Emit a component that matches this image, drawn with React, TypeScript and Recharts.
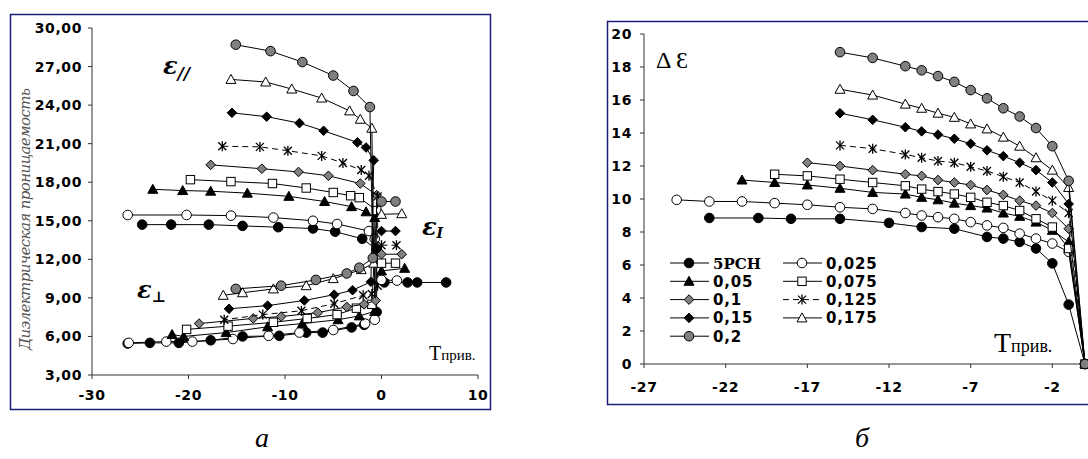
import { ScatterChart, Scatter, XAxis, YAxis } from 'recharts'

type Pt = [number, number]
type Kind = 'dot' | 'ring' | 'tri' | 'sq' | 'gdia' | 'star' | 'dia' | 'otri' | 'gdot'

const NAMES = ['5PCH', '0,025', '0,05', '0,075', '0,1', '0,125', '0,15', '0,175', '0,2']
const KINDS: Kind[] = ['dot', 'ring', 'tri', 'sq', 'gdia', 'star', 'dia', 'otri', 'gdot']

// panel a: permittivity vs reduced temperature, [T, eps]
const PAR_PCH: Pt[] = [[-24.8, 14.7], [-21.8, 14.7], [-17.9, 14.7], [-14.4, 14.6], [-10.7, 14.5], [-7.1, 14.4], [-4.8, 14.15], [-2.0, 13.6], [-0.5, 12.8]]
const PAR_025: Pt[] = [[-26.3, 15.45], [-20.2, 15.45], [-15.6, 15.4], [-11.2, 15.25], [-7.1, 15.0], [-4.6, 14.75], [-1.3, 14.2], [-0.7, 13.6]]
const PAR_05: Pt[] = [[-23.7, 17.45], [-20.6, 17.35], [-17.7, 17.3], [-13.9, 17.15], [-9.6, 16.9], [-5.9, 16.5], [-3.1, 16.1], [-1.6, 15.7], [-0.7, 15.25]]
const PAR_075: Pt[] = [[-19.8, 18.2], [-15.6, 18.05], [-11.3, 17.9], [-7.8, 17.55], [-5.0, 17.2], [-3.2, 16.95], [-2.3, 16.8], [-0.5, 15.8]]
const PAR_1: Pt[] = [[-17.7, 19.35], [-12.4, 19.05], [-8.6, 18.8], [-5.5, 18.5], [-2.2, 17.9], [-0.5, 17.0]]
const PAR_125: Pt[] = [[-16.5, 20.8], [-12.6, 20.75], [-9.7, 20.45], [-6.2, 20.05], [-4.0, 19.5], [-2.1, 18.95], [-1.3, 18.5], [-0.4, 16.9]]
const PAR_15: Pt[] = [[-15.5, 23.4], [-11.9, 23.1], [-8.5, 22.6], [-6.0, 22.0], [-2.5, 21.1], [-1.6, 20.7], [-0.8, 19.7]]
const PAR_175: Pt[] = [[-15.6, 26.0], [-12.0, 25.8], [-9.3, 25.25], [-6.2, 24.55], [-3.3, 23.55], [-2.2, 22.9], [-1.0, 22.2]]
const PAR_2: Pt[] = [[-15.1, 28.7], [-11.5, 28.2], [-8.2, 27.35], [-5.0, 26.3], [-2.9, 25.1], [-1.2, 23.85]]

const PERP_PCH: Pt[] = [[-26.3, 5.45], [-24.0, 5.5], [-21.0, 5.5], [-17.7, 5.7], [-14.4, 6.0], [-10.6, 6.05], [-7.8, 6.3], [-6.1, 6.3], [-3.1, 6.7], [-1.8, 6.9], [-0.5, 7.9]]
const PERP_025: Pt[] = [[-26.2, 5.5], [-22.3, 5.6], [-19.6, 5.6], [-15.4, 5.8], [-11.7, 6.05], [-8.5, 6.3], [-5.0, 6.5], [-1.7, 7.0], [-0.7, 7.3]]
const PERP_05: Pt[] = [[-21.7, 6.15], [-20.5, 6.0], [-16.1, 6.3], [-11.8, 6.75], [-8.2, 7.0], [-4.5, 7.3], [-2.3, 7.6], [-0.7, 7.95]]
const PERP_075: Pt[] = [[-20.2, 6.55], [-15.9, 6.8], [-11.2, 7.1], [-7.7, 7.4], [-4.6, 7.7], [-2.6, 8.2], [-1.0, 8.5]]
const PERP_1: Pt[] = [[-18.9, 7.0], [-13.3, 7.4], [-10.4, 7.55], [-6.6, 7.85], [-3.6, 8.3], [-1.8, 8.5], [-0.6, 8.8]]
const PERP_125: Pt[] = [[-16.3, 7.3], [-12.3, 7.7], [-8.3, 8.0], [-4.9, 8.55], [-1.9, 9.2], [-1.0, 9.3], [-0.4, 9.95]]
const PERP_15: Pt[] = [[-15.8, 8.15], [-11.8, 8.4], [-8.0, 8.8], [-4.9, 9.25], [-3.0, 9.6], [-1.1, 10.25]]
const PERP_175: Pt[] = [[-16.4, 9.2], [-14.4, 9.4], [-11.2, 9.7], [-7.8, 9.95], [-5.0, 10.5], [-2.1, 11.2], [-0.8, 11.7]]
const PERP_2: Pt[] = [[-15.1, 9.7], [-10.4, 9.95], [-6.8, 10.4], [-3.6, 10.9], [-2.3, 11.35], [-0.9, 12.1]]

const ISO_PCH: Pt[] = [[0.3, 10.2], [2.7, 10.2], [3.7, 10.2], [6.7, 10.2]]
const ISO_025: Pt[] = [[0, 10.4], [1.6, 10.35]]
const ISO_05: Pt[] = [[0, 11.1], [2.4, 11.3]]
const ISO_075: Pt[] = [[0, 11.7], [1.45, 11.7]]
const ISO_1: Pt[] = [[0, 12.4], [2.1, 12.4]]
const ISO_125: Pt[] = [[0, 13.1], [1.55, 13.1]]
const ISO_15: Pt[] = [[0, 14.2], [1.45, 14.2]]
const ISO_175: Pt[] = [[0, 15.5], [2.1, 15.55]]
const ISO_2: Pt[] = [[0, 16.5], [1.45, 16.5]]

// panel b: anisotropy
const T_PCH = [-23, -20, -18, -15, -12, -10, -8, -6, -5, -4, -3, -2, -1, 0]
const T_025 = [-25, -23, -21, -19, -17, -15, -13, -11, -10, -9, -8, -7, -6, -5, -4, -3, -2, -1, 0]
const T_05 = [-21, -19, -17, -15, -13, -11, -10, -9, -8, -7, -6, -5, -4, -3, -2, -1, 0]
const T_075 = [-19, -17, -15, -13, -11, -10, -9, -8, -7, -6, -5, -4, -3, -2, -1, 0]
const T_1 = [-17, -15, -13, -11, -10, -9, -8, -7, -6, -5, -4, -3, -2, -1, 0]
const T_HI = [-15, -13, -11, -10, -9, -8, -7, -6, -5, -4, -3, -2, -1, 0]

const D_PCH = [8.85, 8.85, 8.8, 8.8, 8.55, 8.3, 8.2, 7.7, 7.6, 7.4, 7.0, 6.1, 3.6, 0]
const D_025 = [9.95, 9.85, 9.85, 9.75, 9.65, 9.5, 9.4, 9.15, 9.0, 8.9, 8.8, 8.6, 8.4, 8.25, 7.9, 7.6, 7.3, 6.8, 0]
const D_05 = [11.15, 11.0, 10.85, 10.65, 10.4, 10.3, 10.1, 9.95, 9.75, 9.6, 9.45, 9.15, 8.95, 8.6, 8.1, 7.4, 0]
const D_075 = [11.5, 11.4, 11.2, 11.0, 10.8, 10.6, 10.45, 10.3, 10.1, 9.8, 9.6, 9.3, 8.8, 8.3, 7.0, 0]
const D_1 = [12.2, 12.0, 11.75, 11.5, 11.4, 11.15, 11.0, 10.85, 10.55, 10.25, 9.9, 9.6, 9.15, 8.2, 0]
const D_125 = [13.25, 13.05, 12.7, 12.5, 12.3, 12.2, 11.95, 11.7, 11.35, 11.0, 10.45, 9.9, 9.15, 0]
const D_15 = [15.2, 14.8, 14.35, 14.1, 13.9, 13.65, 13.35, 12.95, 12.6, 12.2, 11.75, 11.0, 9.7, 0]
const D_175 = [16.65, 16.3, 15.75, 15.5, 15.2, 14.95, 14.55, 14.25, 13.75, 13.2, 12.5, 11.75, 10.7, 0]
const D_2 = [18.9, 18.55, 18.05, 17.8, 17.45, 17.1, 16.6, 16.1, 15.5, 15.0, 14.3, 13.2, 11.1, 0]

const LEFT_X_TICKS = [-30, -20, -10, 0, 10]
const LEFT_Y_TICKS = [3, 6, 9, 12, 15, 18, 21, 24, 27, 30]
const RIGHT_X_TICKS = [-27, -22, -17, -12, -7, -2]
const RIGHT_Y_TICKS = [0, 2, 4, 6, 8, 10, 12, 14, 16, 18, 20]

const PARS = [PAR_PCH, PAR_025, PAR_05, PAR_075, PAR_1, PAR_125, PAR_15, PAR_175, PAR_2]
const PERPS = [PERP_PCH, PERP_025, PERP_05, PERP_075, PERP_1, PERP_125, PERP_15, PERP_175, PERP_2]
const ISOS = [ISO_PCH, ISO_025, ISO_05, ISO_075, ISO_1, ISO_125, ISO_15, ISO_175, ISO_2]
const TS = [T_PCH, T_025, T_05, T_075, T_1, T_HI, T_HI, T_HI, T_HI]
const DS = [D_PCH, D_025, D_05, D_075, D_1, D_125, D_15, D_175, D_2]

const toXY = (pts: Pt[]) => pts.map(([x, y]) => ({ x, y }))

const GREY = '#808080'
const TICK = { fill: '#000', fontFamily: 'DejaVu Sans', fontWeight: 700, fontSize: 14, letterSpacing: 0.6 }

function Marker({ cx, cy, kind }: { cx?: number; cy?: number; kind: Kind }) {
  if (cx == null || cy == null) return null
  const s = { stroke: '#000', strokeWidth: 1 }
  switch (kind) {
    case 'dot':
      return <circle cx={cx} cy={cy} r={4.8} fill="#000" {...s} />
    case 'ring':
      return <circle cx={cx} cy={cy} r={4.8} fill="#fff" {...s} />
    case 'gdot':
      return <circle cx={cx} cy={cy} r={4.8} fill={GREY} {...s} />
    case 'tri':
    case 'otri':
      return (
        <polygon
          points={`${cx},${cy - 5} ${cx + 5},${cy + 4} ${cx - 5},${cy + 4}`}
          fill={kind === 'tri' ? '#000' : '#fff'}
          {...s}
        />
      )
    case 'sq':
      return <rect x={cx - 4.2} y={cy - 4.2} width={8.4} height={8.4} fill="#fff" {...s} />
    case 'dia':
    case 'gdia':
      return (
        <polygon
          points={`${cx},${cy - 4.8} ${cx + 4.8},${cy} ${cx},${cy + 4.8} ${cx - 4.8},${cy}`}
          fill={kind === 'dia' ? '#000' : GREY}
          {...s}
        />
      )
    case 'star':
      return (
        <g stroke="#000" strokeWidth={1.3}>
          <line x1={cx - 4} y1={cy - 4} x2={cx + 4} y2={cy + 4} />
          <line x1={cx - 4} y1={cy + 4} x2={cx + 4} y2={cy - 4} />
          <line x1={cx} y1={cy - 5} x2={cx} y2={cy + 5} />
        </g>
      )
  }
  return null
}

const lineFor = (kind: Kind) => ({
  stroke: '#000',
  strokeWidth: 1,
  strokeDasharray: kind === 'star' ? '6 4' : undefined,
})

const shapeFor = (kind: Kind) => (p: any) => <Marker cx={p.cx} cy={p.cy} kind={kind} />

function LeftPanel() {
  return (
    <ScatterChart width={481} height={396} margin={{ top: 14, right: 13, bottom: 10, left: 12 }}>
      <XAxis
        type="number"
        dataKey="x"
        domain={[-30, 10]}
        ticks={LEFT_X_TICKS}
        tick={TICK}
        tickSize={4}
        tickMargin={11}
        height={25}
        axisLine={{ stroke: '#333' }}
        tickLine={{ stroke: '#333' }}
      />
      <YAxis
        type="number"
        dataKey="y"
        domain={[3, 30]}
        ticks={LEFT_Y_TICKS}
        tick={TICK}
        tickSize={4}
        tickMargin={6}
        width={70}
        tickFormatter={(v: number) => v.toFixed(2).replace('.', ',')}
        axisLine={{ stroke: '#333' }}
        tickLine={{ stroke: '#333' }}
      />
      {NAMES.map((name, i) => (
        <Scatter
          key={name}
          data={toXY([...PARS[i], ...[...PERPS[i]].reverse()])}
          fill="#000"
          line={lineFor(KINDS[i])}
          shape={shapeFor(KINDS[i])}
          isAnimationActive={false}
        />
      ))}
      {NAMES.map((name, i) => (
        <Scatter
          key={name + '-iso'}
          data={toXY(ISOS[i])}
          fill="#000"
          line={lineFor(KINDS[i])}
          shape={shapeFor(KINDS[i])}
          isAnimationActive={false}
        />
      ))}
    </ScatterChart>
  )
}

function RightPanel() {
  return (
    <ScatterChart width={481} height={384} margin={{ top: 13, right: 3, bottom: 11, left: 7 }}>
      <XAxis
        type="number"
        dataKey="x"
        domain={[-27, 0]}
        ticks={RIGHT_X_TICKS}
        tick={TICK}
        tickSize={4}
        tickMargin={14}
        height={30}
        axisLine={{ stroke: '#333' }}
        tickLine={{ stroke: '#333' }}
      />
      <YAxis
        type="number"
        dataKey="y"
        domain={[0, 20]}
        ticks={RIGHT_Y_TICKS}
        tick={TICK}
        tickSize={4}
        tickMargin={8}
        width={30}
        axisLine={{ stroke: '#333' }}
        tickLine={{ stroke: '#333' }}
      />
      {NAMES.map((name, i) => (
        <Scatter
          key={name}
          data={TS[i].map((x, j) => ({ x, y: DS[i][j] }))}
          fill="#000"
          line={lineFor(KINDS[i])}
          shape={shapeFor(KINDS[i])}
          isAnimationActive={false}
        />
      ))}
    </ScatterChart>
  )
}

function Overlay() {
  const serif = 'DejaVu Serif'
  return (
    <svg width={1088} height={459} style={{ position: 'absolute', left: 0, top: 0, pointerEvents: 'none' }}>
      <rect x={10.5} y={14.5} width={480} height={395} fill="none" stroke="#1c1c78" strokeWidth={1.5} />
      <rect x={607.5} y={21.5} width={520} height={383} fill="none" stroke="#1c1c78" strokeWidth={1.5} />

      <text
        transform="rotate(-90)"
        x={-219}
        y={30}
        textAnchor="middle"
        fontFamily={serif}
        fontStyle="italic"
        fontSize={15}
        fill="#555"
        textLength={262}
        lengthAdjust="spacing"
      >
        Диэлектрическая проницаемость
      </text>

      <text x={163} y={74} fontFamily={serif} fontStyle="italic" fontWeight="bold" fontSize={24}>
        ε<tspan fontSize={17} dy={5}>//</tspan>
      </text>
      <text x={137} y={298} fontFamily={serif} fontStyle="italic" fontWeight="bold" fontSize={24}>
        ε<tspan fontSize={15} dy={4}>⊥</tspan>
      </text>
      <text x={422} y={235} fontFamily={serif} fontStyle="italic" fontWeight="bold" fontSize={24}>
        ε<tspan fontSize={14} dy={3}>I</tspan>
      </text>
      <text x={429} y={360} fontFamily="Liberation Serif" fontSize={20}>
        T<tspan fontSize={15}>прив.</tspan>
      </text>

      <text x={656} y={68} fontFamily="Liberation Serif" fontSize={24}>
        Δ Ɛ
      </text>
      <text x={994} y={352} fontFamily="Liberation Serif" fontSize={28}>
        T<tspan fontSize={18}>прив.</tspan>
      </text>

      {NAMES.map((name, i) => {
        const col = i % 2
        const row = Math.floor(i / 2)
        const y = 263 + row * 18.3
        const x0 = col === 0 ? 670 : 783
        return (
          <g key={name}>
            <line
              x1={x0}
              x2={x0 + 39}
              y1={y}
              y2={y}
              stroke="#000"
              strokeDasharray={KINDS[i] === 'star' ? '6 4' : undefined}
            />
            <Marker cx={x0 + 19} cy={y} kind={KINDS[i]} />
            <text
              x={x0 + 43}
              y={y + 5.5}
              fontFamily={name === '5PCH' ? serif : 'DejaVu Sans'}
              fontWeight="bold"
              fontSize={15}
              letterSpacing={name === '5PCH' ? 0 : 0.8}
            >
              {name}
            </text>
          </g>
        )
      })}

      <text x={262} y={447} textAnchor="middle" fontFamily="Liberation Serif" fontStyle="italic" fontSize={28}>
        а
      </text>
      <text x={862} y={447} textAnchor="middle" fontFamily="Liberation Serif" fontStyle="italic" fontSize={28}>
        б
      </text>
    </svg>
  )
}

export default function App() {
  return (
    <div style={{ position: 'absolute', left: 0, top: 0, width: 1088, height: 459, overflow: 'hidden', background: '#fff' }}>
      <div style={{ position: 'absolute', left: 10, top: 14 }}>
        <LeftPanel />
      </div>
      <div style={{ position: 'absolute', left: 607, top: 21 }}>
        <RightPanel />
      </div>
      <Overlay />
    </div>
  )
}
